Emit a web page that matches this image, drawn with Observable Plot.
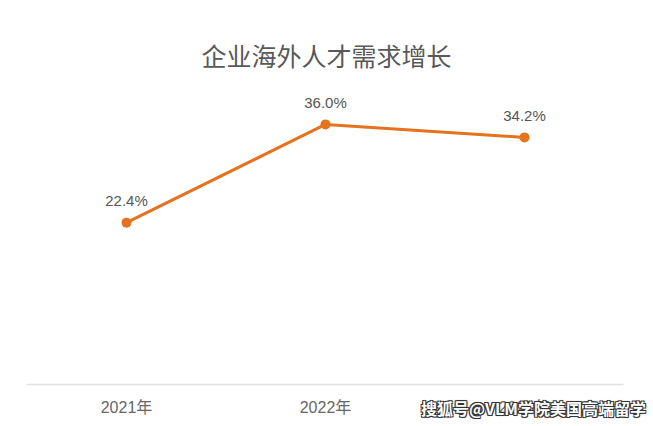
<!DOCTYPE html>
<html>
<head>
<meta charset="utf-8">
<script src="https://cdn.jsdelivr.net/npm/d3@7"></script>
<script src="https://cdn.jsdelivr.net/npm/@observablehq/plot@0.6"></script>
<style>
  html, body { margin: 0; padding: 0; background: #fff; }
  #wrap { position: relative; width: 653px; height: 426px; overflow: hidden; }
  #title { height: 90px; box-sizing: border-box; padding-top: 42px; line-height: 26px; text-align: center;
           font-family: "Noto Sans CJK SC", sans-serif; font-size: 25px; color: #595959; }
  #mark { position: absolute; left: 421px; top: 396px; font-family: "Noto Sans CJK SC", sans-serif;
          font-size: 16px; font-weight: bold; color: #fff; line-height: 24px; white-space: nowrap;
          text-shadow: -1px -1px 0 #333, 1px -1px 0 #333, -1px 1px 0 #333, 1px 1px 0 #333, 0 0 2px #000; }
</style>
</head>
<body>
<div id="wrap">
  <div id="title">企业海外人才需求增长</div>
  <div id="chart"></div>
  <div id="mark">搜狐号@VLM学院美国高端留学</div>
</div>
<script>
const years = ["2021年", "2022年", "2023年"];
const values = [22.4, 36.0, 34.2];
const labels = ["22.4%", "36.0%", "34.2%"];

const data = years.map((y, i) => ({year: y, value: values[i], label: labels[i]}));
const color = "#E5721D";
const font = "'Liberation Sans', Arial, 'Noto Sans CJK SC', sans-serif";

const chart = Plot.plot({
  width: 653,
  height: 336,
  marginLeft: 26.5,
  marginRight: 29.5,
  marginTop: 5,
  marginBottom: 42,
  style: {fontFamily: font, background: "#fff"},
  x: {type: "point", domain: years, padding: 0.5, label: null},
  y: {domain: [0, 40], axis: null},
  marks: [
    Plot.ruleY([0], {stroke: "#e0e0e0", strokeWidth: 1.5}),
    Plot.axisX({tickSize: 0, tickPadding: 17, fontSize: 16, fill: "#666", fontFamily: font, label: null}),
    Plot.line(data, {x: "year", y: "value", stroke: color, strokeWidth: 3}),
    Plot.dot(data, {x: "year", y: "value", r: 5, fill: color, stroke: "none"}),
    Plot.text(data, {x: "year", y: "value", text: "label", dy: -21, fontSize: 15, fill: "#555"})
  ]
});
document.getElementById("chart").appendChild(chart);
</script>
</body>
</html>
